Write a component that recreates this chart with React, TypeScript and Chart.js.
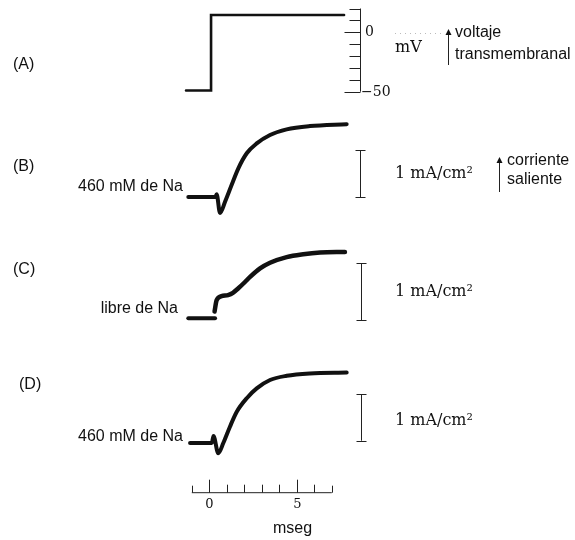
import React, { useEffect, useRef } from "react";
import { Chart, registerables } from "chart.js";
Chart.register(...registerables);

// ---- data (time in ms, voltage in mV, current in mA/cm²) ----
const timeTicks = [-1, 0, 1, 2, 3, 4, 5, 6, 7];
const timeTickLabels = ["", "0", "", "", "", "", "5", "", ""];
const voltTicks = [20, 10, 0, -10, -20, -30, -40, -50];
const voltTickLabels = ["", "", "0", "", "", "", "", "−50"];

const aTime = [-1.33, 0.1, 0.1, 7.7];
const aVolt = [-49, -49, 14.6, 14.6];

const bTime = [-1.2, 0.35, 0.42, 0.61, 0.9, 1.28, 1.66, 2.14, 2.71, 3.47, 4.42, 5.75, 7.85];
const bCurr = [0, 0, 0.06, -0.34, -0.1, 0.26, 0.61, 0.93, 1.14, 1.32, 1.44, 1.51, 1.55];

const cBaseTime = [-1.2, 0.33];
const cBaseCurr = [0.03, 0.03];
const cTime = [0.3, 0.42, 0.7, 1.07, 1.35, 1.66, 2.04, 2.33, 2.9, 3.47, 4.42, 5.37, 6.33, 7.75];
const cCurr = [0.15, 0.35, 0.42, 0.44, 0.48, 0.56, 0.67, 0.76, 0.91, 1.01, 1.11, 1.16, 1.19, 1.2];

const dTime = [-1.1, 0.14, 0.24, 0.51, 0.8, 1.18, 1.57, 2.14, 2.71, 3.47, 4.42, 5.75, 7.85];
const dCurr = [-0.05, -0.05, 0.1, -0.27, -0.05, 0.3, 0.62, 0.91, 1.12, 1.3, 1.39, 1.44, 1.46];

const panelLetters = ["(A)", "(B)", "(C)", "(D)"];
const sideLabels = ["", "460 mM de Na", "libre de Na", "460 mM de Na"];
const scaleBarLabel = "1 mA/cm²";
const scaleBarSpan = [0, 1];
const timeUnit = "mseg";
const voltUnit = "mV";

// ---- layout ----
const W = 575;
const H = 540;
const AREA_TOP = 5;
const AREA_BOTTOM = 492.7;
const X0 = 209.3; // pixel of t = 0
const PX_PER_MS = 17.5;

function yRange(zeroPx: number, pxPerUnit: number) {
  return {
    min: (zeroPx - AREA_BOTTOM) / pxPerUnit,
    max: (zeroPx - AREA_TOP) / pxPerUnit,
  };
}

const SANS = "'Liberation Sans', Arial, sans-serif";
const SERIF = "'DejaVu Serif', serif";
const INK = "#111";

function pts(xs: number[], ys: number[]) {
  return xs.map((x, i) => ({ x, y: ys[i] }));
}

function arrowUp(ctx: CanvasRenderingContext2D, x: number, yBottom: number, yTop: number) {
  ctx.beginPath();
  ctx.moveTo(x, yBottom);
  ctx.lineTo(x, yTop + 3);
  ctx.stroke();
  ctx.beginPath();
  ctx.moveTo(x, yTop);
  ctx.lineTo(x - 3, yTop + 6);
  ctx.lineTo(x + 3, yTop + 6);
  ctx.closePath();
  ctx.fill();
}

const annotations = {
  id: "annotations",
  afterDatasetsDraw(chart: any) {
    const ctx: CanvasRenderingContext2D = chart.ctx;
    const sx = chart.scales.x;
    const yA = chart.scales.yA;
    const panels = [chart.scales.yB, chart.scales.yC, chart.scales.yD];
    ctx.save();
    ctx.strokeStyle = "#222";
    ctx.fillStyle = INK;
    ctx.lineWidth = 1;

    // time axis
    const axY = AREA_BOTTOM;
    ctx.beginPath();
    ctx.moveTo(sx.getPixelForValue(timeTicks[0]), axY);
    ctx.lineTo(sx.getPixelForValue(timeTicks[timeTicks.length - 1]), axY);
    ctx.stroke();
    timeTicks.forEach((t, i) => {
      const px = Math.round(sx.getPixelForValue(t)) + 0.5;
      const end = i === 0 || i === timeTicks.length - 1;
      const len = timeTickLabels[i] ? 13 : end ? 7 : 8;
      ctx.beginPath();
      ctx.moveTo(px, axY);
      ctx.lineTo(px, axY - len);
      ctx.stroke();
      if (timeTickLabels[i]) {
        ctx.font = `13px ${SERIF}`;
        ctx.textAlign = "center";
        ctx.textBaseline = "middle";
        ctx.fillText(timeTickLabels[i], px, 505);
      }
    });
    ctx.font = `16px ${SANS}`;
    ctx.textAlign = "center";
    ctx.textBaseline = "middle";
    ctx.fillText(timeUnit, 292.5, 529);

    // voltage axis (panel A)
    const vx = 360.5;
    ctx.beginPath();
    ctx.moveTo(vx, yA.getPixelForValue(voltTicks[0]));
    ctx.lineTo(vx, yA.getPixelForValue(voltTicks[voltTicks.length - 1]));
    ctx.stroke();
    voltTicks.forEach((v, i) => {
      const py = Math.round(yA.getPixelForValue(v)) + 0.5;
      const len = voltTickLabels[i] ? 16 : 11;
      ctx.beginPath();
      ctx.moveTo(vx, py);
      ctx.lineTo(vx - len, py);
      ctx.stroke();
      if (voltTickLabels[i]) {
        ctx.font = `14px ${SERIF}`;
        ctx.textAlign = "left";
        ctx.textBaseline = "middle";
        ctx.fillText(voltTickLabels[i], voltTickLabels[i].length > 1 ? 361 : 365, py);
      }
    });
    ctx.font = `16px ${SERIF}`;
    ctx.textAlign = "left";
    ctx.textBaseline = "middle";
    ctx.fillText(voltUnit, 395, 48);
    ctx.save();
    ctx.strokeStyle = "#bbb";
    ctx.setLineDash([1, 4]);
    ctx.beginPath();
    ctx.moveTo(395, 33.5);
    ctx.lineTo(442, 33.5);
    ctx.stroke();
    ctx.restore();
    arrowUp(ctx, 448.5, 65, 29);
    ctx.font = `16px ${SANS}`;
    ctx.fillText("voltaje", 455, 33);
    ctx.fillText("transmembranal", 455, 55);

    // scale bars for current panels
    const barX = [360.5, 361.5, 361.5];
    const labelShift = [0, 0, 3];
    panels.forEach((sc: any, i: number) => {
      const top = sc.getPixelForValue(scaleBarSpan[1]);
      const bot = sc.getPixelForValue(scaleBarSpan[0]);
      const x = barX[i];
      ctx.beginPath();
      ctx.moveTo(x, top);
      ctx.lineTo(x, bot);
      ctx.moveTo(x - 5, Math.round(top) + 0.5);
      ctx.lineTo(x + 5, Math.round(top) + 0.5);
      ctx.moveTo(x - 5, Math.round(bot) + 0.5);
      ctx.lineTo(x + 5, Math.round(bot) + 0.5);
      ctx.stroke();
      ctx.font = `16px ${SERIF}`;
      ctx.textAlign = "left";
      ctx.textBaseline = "middle";
      ctx.fillText(scaleBarLabel, 395, (top + bot) / 2 + labelShift[i]);
    });
    arrowUp(ctx, 499.5, 192, 157);
    ctx.font = `16px ${SANS}`;
    ctx.textAlign = "left";
    ctx.fillText("corriente", 507, 161);
    ctx.fillText("saliente", 507, 180);

    // panel letters and side labels
    const letterPos = [
      [13, 65],
      [13, 167],
      [13, 270],
      [19, 385],
    ];
    ctx.font = `16px ${SANS}`;
    ctx.textAlign = "left";
    panelLetters.forEach((l, i) => ctx.fillText(l, letterPos[i][0], letterPos[i][1]));
    const sidePos = [
      [0, 0],
      [183, 187],
      [178, 309],
      [183, 437],
    ];
    ctx.textAlign = "right";
    sideLabels.forEach((s, i) => {
      if (s) ctx.fillText(s, sidePos[i][0], sidePos[i][1]);
    });
    ctx.restore();
  },
};

export default function App() {
  const ref = useRef<HTMLCanvasElement | null>(null);
  useEffect(() => {
    if (!ref.current) return;
    const trace = {
      borderColor: INK,
      backgroundColor: INK,
      pointRadius: 0,
      fill: false,
      clip: false as const,
      borderCapStyle: "round" as const,
      borderJoinStyle: "round" as const,
    };
    const curve = { ...trace, cubicInterpolationMode: "monotone" as const, tension: 0.4 };
    const chart = new Chart(ref.current, {
      type: "line",
      data: {
        datasets: [
          { ...trace, label: "A", data: pts(aTime, aVolt), yAxisID: "yA", borderWidth: 2.6, tension: 0, borderJoinStyle: "miter" as const },
          { ...curve, label: "B", data: pts(bTime, bCurr), yAxisID: "yB", borderWidth: 4 },
          { ...trace, label: "C base", data: pts(cBaseTime, cBaseCurr), yAxisID: "yC", borderWidth: 4, tension: 0 },
          { ...curve, label: "C", data: pts(cTime, cCurr), yAxisID: "yC", borderWidth: 4.5 },
          { ...curve, label: "D", data: pts(dTime, dCurr), yAxisID: "yD", borderWidth: 4 },
        ],
      },
      options: {
        responsive: false,
        animation: false,
        events: [],
        layout: {
          padding: {
            left: X0 - PX_PER_MS,
            right: W - (X0 + 7 * PX_PER_MS),
            top: AREA_TOP,
            bottom: H - AREA_BOTTOM,
          },
        },
        plugins: { legend: { display: false }, tooltip: { enabled: false } },
        scales: {
          x: { type: "linear", min: -1, max: 7, display: false },
          yA: { type: "linear", display: false, ...yRange(32.3, 1.188) },
          yB: { type: "linear", display: false, ...yRange(197, 47) },
          yC: { type: "linear", display: false, ...yRange(320, 56.7) },
          yD: { type: "linear", display: false, ...yRange(440.7, 46.7) },
        },
      },
      plugins: [annotations],
    });
    return () => chart.destroy();
  }, []);
  return (
    <div style={{ position: "absolute", left: 0, top: 0, width: W, height: H, background: "#fff" }}>
      <canvas ref={ref} width={W} height={H} style={{ display: "block" }} />
    </div>
  );
}
